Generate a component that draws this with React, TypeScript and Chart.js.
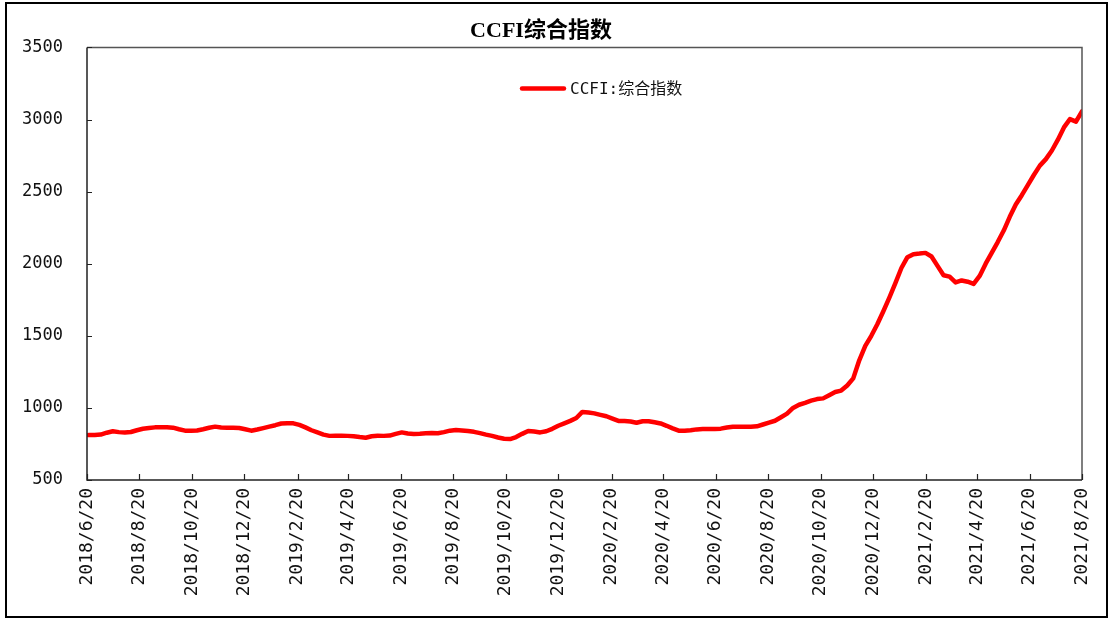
import React, { useEffect, useRef } from 'react';
import { Chart, registerables } from 'chart.js';

Chart.register(...registerables);

const TITLE = 'CCFI综合指数';
const SERIES_NAME = 'CCFI:综合指数';

const X_TICK_LABELS = [
  '2018/6/20', '2018/8/20', '2018/10/20', '2018/12/20', '2019/2/20', '2019/4/20',
  '2019/6/20', '2019/8/20', '2019/10/20', '2019/12/20', '2020/2/20', '2020/4/20',
  '2020/6/20', '2020/8/20', '2020/10/20', '2020/12/20', '2021/2/20', '2021/4/20',
  '2021/6/20', '2021/8/20',
];

const Y_MIN = 500;
const Y_MAX = 3500;
const Y_STEP = 500;

// weekly index, first release date of the series
const FIRST_DATE = '2018/6/22';
const WEEK_DAYS = 7;

const CCFI_VALUES = [
  812, 812, 815, 828, 838, 832, 830, 833, 845, 855,
  860, 865, 866, 866, 863, 852, 842, 841, 843, 852,
  862, 870, 864, 862, 863, 861, 852, 842, 850, 860,
  870, 880, 892, 894, 893, 882, 865, 845, 830, 815,
  806, 807, 807, 806, 804, 798, 793, 803, 807, 806,
  808, 820, 830, 822, 819, 821, 824, 826, 824, 832,
  842, 846, 844, 840, 834, 825, 815, 806, 795, 786,
  784, 798, 820, 840, 836, 830, 838, 855, 876, 893,
  910, 930, 972, 968, 962, 952, 942, 926, 910, 909,
  906, 897, 907, 908, 900, 892, 876, 858, 842, 841,
  845, 851, 853, 853, 853, 856, 864, 869, 869, 869,
  869, 872, 885, 898, 911, 935, 960, 1000, 1022, 1035,
  1050, 1061, 1066, 1088, 1110, 1120, 1155, 1205, 1330, 1430,
  1500, 1580, 1670, 1765, 1865, 1970, 2045, 2066, 2070, 2075,
  2050, 1985, 1920, 1910, 1870, 1884, 1875, 1860, 1915, 2000,
  2075, 2150, 2230, 2325, 2410, 2475, 2545, 2615, 2680, 2725,
  2785, 2860, 2945, 3003, 2985, 3057,
];

const dayNum = (s: string) => {
  const [y, m, d] = s.split('/').map(Number);
  return Math.round(Date.UTC(y, m - 1, d) / 86400000);
};

const AXIS_START = dayNum(X_TICK_LABELS[0]);
const AXIS_END = dayNum(X_TICK_LABELS[X_TICK_LABELS.length - 1]);
const TICK_POS = X_TICK_LABELS.map((l) => dayNum(l) - AXIS_START);
const FIRST_OFFSET = dayNum(FIRST_DATE) - AXIS_START;

const TICK_FONT = '"DejaVu Sans Mono", "Noto Sans CJK SC", monospace';

const framePlugin = {
  id: 'frame',
  afterDraw(chart: any) {
    const { ctx, chartArea: a, scales } = chart;
    ctx.save();
    ctx.strokeStyle = '#555';
    ctx.lineWidth = 1.5;
    ctx.beginPath();
    ctx.moveTo(a.left, a.top);
    ctx.lineTo(a.right, a.top);
    ctx.lineTo(a.right, a.bottom);
    ctx.stroke();
    ctx.strokeStyle = '#222';
    ctx.lineWidth = 1.5;
    ctx.beginPath();
    ctx.moveTo(a.left, a.top);
    ctx.lineTo(a.left, a.bottom);
    ctx.lineTo(a.right, a.bottom);
    ctx.stroke();
    ctx.lineWidth = 1.2;
    ctx.beginPath();
    scales.y.ticks.forEach((t: any) => {
      const y = Math.round(scales.y.getPixelForValue(t.value)) + 0.5;
      ctx.moveTo(a.left, y);
      ctx.lineTo(a.left + 5, y);
    });
    scales.x.ticks.forEach((t: any) => {
      const x = Math.round(scales.x.getPixelForValue(t.value)) + 0.5;
      ctx.moveTo(x, a.bottom);
      ctx.lineTo(x, a.bottom - 6);
    });
    ctx.stroke();
    const lx = a.left + 435;
    const ly = a.top + 41;
    ctx.strokeStyle = '#FF0000';
    ctx.lineWidth = 4.5;
    ctx.lineCap = 'round';
    ctx.beginPath();
    ctx.moveTo(lx, ly);
    ctx.lineTo(lx + 42, ly);
    ctx.stroke();
    ctx.fillStyle = '#111';
    ctx.font = '16px "DejaVu Sans Mono", "Noto Sans CJK SC", sans-serif';
    ctx.textBaseline = 'middle';
    ctx.textAlign = 'left';
    ctx.fillText(SERIES_NAME, lx + 48, ly + 1);
    ctx.restore();
  },
};

export default function App() {
  const ref = useRef<HTMLCanvasElement | null>(null);

  useEffect(() => {
    if (!ref.current) return;
    const points = CCFI_VALUES.map((v, i) => ({ x: FIRST_OFFSET + i * WEEK_DAYS, y: v }));
    const chart = new Chart(ref.current, {
      type: 'line',
      data: {
        datasets: [
          {
            label: SERIES_NAME,
            data: points,
            borderColor: '#FF0000',
            backgroundColor: '#FF0000',
            borderWidth: 4.5,
            pointRadius: 0,
            tension: 0,
            borderJoinStyle: 'round',
            borderCapStyle: 'round',
          } as any,
        ],
      },
      options: {
        animation: false,
        responsive: false,
        maintainAspectRatio: false,
        layout: { padding: { top: 0, right: 33, bottom: 0, left: 0 } },
        plugins: {
          legend: { display: false },
          tooltip: { enabled: false },
          title: {
            display: true,
            text: TITLE,
            color: '#000',
            font: { family: '"Liberation Serif", "Noto Sans CJK SC", serif', size: 22, weight: 'bold' },
            padding: { top: 18, bottom: 3 },
          },
        },
        scales: {
          x: {
            type: 'linear',
            min: 0,
            max: AXIS_END - AXIS_START,
            grid: { display: false, drawTicks: false },
            border: { display: false },
            afterBuildTicks: (scale: any) => {
              scale.ticks = TICK_POS.map((v) => ({ value: v }));
            },
            afterFit: (scale: any) => {
              scale.height = 139;
            },
            ticks: {
              autoSkip: false,
              maxRotation: 90,
              minRotation: 90,
              padding: 8,
              color: '#111',
              font: { family: TICK_FONT, size: 18 },
              callback: (value: any) => {
                const idx = TICK_POS.indexOf(Number(value));
                return idx >= 0 ? X_TICK_LABELS[idx] : '';
              },
            },
          },
          y: {
            type: 'linear',
            min: Y_MIN,
            max: Y_MAX,
            grid: { display: false, drawTicks: false },
            border: { display: false },
            afterFit: (scale: any) => {
              scale.width = 87;
            },
            ticks: {
              stepSize: Y_STEP,
              padding: 24,
              color: '#111',
              font: { family: TICK_FONT, size: 17 },
              callback: (value: any) => String(value),
            },
          },
        },
      },
      plugins: [framePlugin],
    });
    return () => chart.destroy();
  }, []);

  return (
    <div style={{ position: 'absolute', left: 0, top: 0, width: 1115, height: 619, background: '#fff' }}>
      <canvas ref={ref} width={1115} height={619} style={{ position: 'absolute', left: 0, top: 0 }} />
      <div
        style={{
          position: 'absolute',
          left: 5,
          top: 2,
          width: 1099,
          height: 612,
          border: '2px solid #000',
          pointerEvents: 'none',
        }}
      />
    </div>
  );
}
